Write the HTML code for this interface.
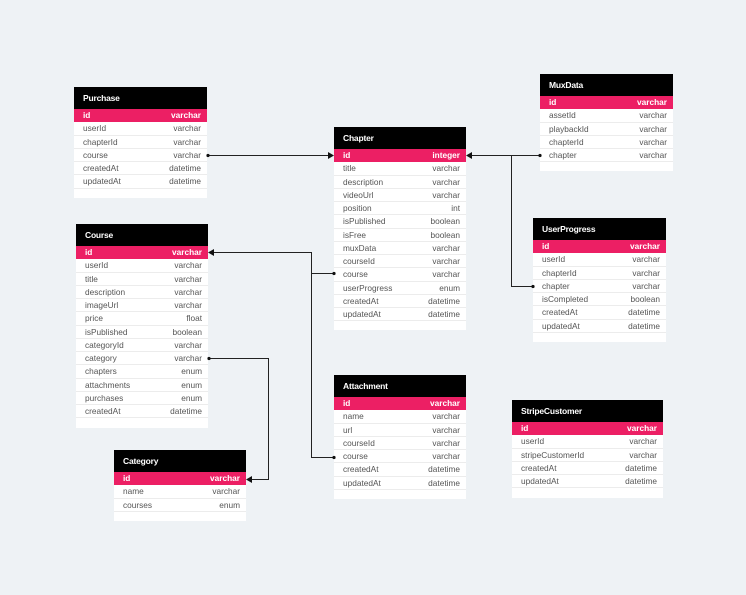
<!DOCTYPE html>
<html><head><meta charset="utf-8"><style>
body{margin:0;width:746px;height:595px;background:#eef2f5;position:relative;overflow:hidden;font-family:"Liberation Sans",sans-serif}
.t{position:absolute;background:#fff}
.h{height:22px;background:#000;color:#fff;font-weight:bold;font-size:8.5px;padding-left:9px;line-height:22px;letter-spacing:-0.2px}
.r{box-sizing:border-box;height:13.25px;border-bottom:1px solid #ececec;display:flex;justify-content:space-between;padding:0 6px 0 9px;font-size:8.3px;color:#555;line-height:13.6px}
.pk{background:#ec1f64;color:#fff;font-weight:bold;border-bottom:none}
svg{position:absolute;left:0;top:0}
</style></head><body>

<div class="t" style="left:74px;top:87px;width:133px;height:111px"><div class="h">Purchase</div>
<div class="r pk"><span>id</span><span>varchar</span></div>
<div class="r"><span>userId</span><span>varchar</span></div>
<div class="r"><span>chapterId</span><span>varchar</span></div>
<div class="r"><span>course</span><span>varchar</span></div>
<div class="r"><span>createdAt</span><span>datetime</span></div>
<div class="r"><span>updatedAt</span><span>datetime</span></div></div>

<div class="t" style="left:334px;top:127px;width:132px;height:203px"><div class="h">Chapter</div>
<div class="r pk"><span>id</span><span>integer</span></div>
<div class="r"><span>title</span><span>varchar</span></div>
<div class="r"><span>description</span><span>varchar</span></div>
<div class="r"><span>videoUrl</span><span>varchar</span></div>
<div class="r"><span>position</span><span>int</span></div>
<div class="r"><span>isPublished</span><span>boolean</span></div>
<div class="r"><span>isFree</span><span>boolean</span></div>
<div class="r"><span>muxData</span><span>varchar</span></div>
<div class="r"><span>courseId</span><span>varchar</span></div>
<div class="r"><span>course</span><span>varchar</span></div>
<div class="r"><span>userProgress</span><span>enum</span></div>
<div class="r"><span>createdAt</span><span>datetime</span></div>
<div class="r"><span>updatedAt</span><span>datetime</span></div></div>

<div class="t" style="left:540px;top:74px;width:133px;height:97px"><div class="h">MuxData</div>
<div class="r pk"><span>id</span><span>varchar</span></div>
<div class="r"><span>assetId</span><span>varchar</span></div>
<div class="r"><span>playbackId</span><span>varchar</span></div>
<div class="r"><span>chapterId</span><span>varchar</span></div>
<div class="r"><span>chapter</span><span>varchar</span></div></div>

<div class="t" style="left:533px;top:218px;width:133px;height:124px"><div class="h">UserProgress</div>
<div class="r pk"><span>id</span><span>varchar</span></div>
<div class="r"><span>userId</span><span>varchar</span></div>
<div class="r"><span>chapterId</span><span>varchar</span></div>
<div class="r"><span>chapter</span><span>varchar</span></div>
<div class="r"><span>isCompleted</span><span>boolean</span></div>
<div class="r"><span>createdAt</span><span>datetime</span></div>
<div class="r"><span>updatedAt</span><span>datetime</span></div></div>

<div class="t" style="left:76px;top:224px;width:132px;height:204px"><div class="h">Course</div>
<div class="r pk"><span>id</span><span>varchar</span></div>
<div class="r"><span>userId</span><span>varchar</span></div>
<div class="r"><span>title</span><span>varchar</span></div>
<div class="r"><span>description</span><span>varchar</span></div>
<div class="r"><span>imageUrl</span><span>varchar</span></div>
<div class="r"><span>price</span><span>float</span></div>
<div class="r"><span>isPublished</span><span>boolean</span></div>
<div class="r"><span>categoryId</span><span>varchar</span></div>
<div class="r"><span>category</span><span>varchar</span></div>
<div class="r"><span>chapters</span><span>enum</span></div>
<div class="r"><span>attachments</span><span>enum</span></div>
<div class="r"><span>purchases</span><span>enum</span></div>
<div class="r"><span>createdAt</span><span>datetime</span></div></div>

<div class="t" style="left:114px;top:450px;width:132px;height:71px"><div class="h">Category</div>
<div class="r pk"><span>id</span><span>varchar</span></div>
<div class="r"><span>name</span><span>varchar</span></div>
<div class="r"><span>courses</span><span>enum</span></div></div>

<div class="t" style="left:334px;top:375px;width:132px;height:124px"><div class="h">Attachment</div>
<div class="r pk"><span>id</span><span>varchar</span></div>
<div class="r"><span>name</span><span>varchar</span></div>
<div class="r"><span>url</span><span>varchar</span></div>
<div class="r"><span>courseId</span><span>varchar</span></div>
<div class="r"><span>course</span><span>varchar</span></div>
<div class="r"><span>createdAt</span><span>datetime</span></div>
<div class="r"><span>updatedAt</span><span>datetime</span></div></div>

<div class="t" style="left:512px;top:400px;width:151px;height:98px"><div class="h">StripeCustomer</div>
<div class="r pk"><span>id</span><span>varchar</span></div>
<div class="r"><span>userId</span><span>varchar</span></div>
<div class="r"><span>stripeCustomerId</span><span>varchar</span></div>
<div class="r"><span>createdAt</span><span>datetime</span></div>
<div class="r"><span>updatedAt</span><span>datetime</span></div></div>

<svg width="746" height="595" viewBox="0 0 746 595">
<g stroke="#222" stroke-width="1" fill="none">
<path d="M208 155.5H332"/>
<path d="M539 155.5H468M532 286.5H511.5V155.5"/>
<path d="M333 273.5H311.5V252.5H210M333 457.5H311.5V273.5"/>
<path d="M209 358.5H268.5V479.5H248"/>
</g>
<g fill="#111">
<circle cx="208" cy="155.5" r="1.6"/><path d="M334 155.5l-6-3.5v7z"/>
<circle cx="540" cy="155.5" r="1.6"/><circle cx="533" cy="286.5" r="1.6"/><path d="M466 155.5l6-3.5v7z"/>
<circle cx="334" cy="273.5" r="1.6"/><circle cx="334" cy="457.5" r="1.6"/><path d="M208 252.5l6-3.5v7z"/>
<circle cx="209" cy="358.5" r="1.6"/><path d="M246 479.5l6-3.5v7z"/>
</g></svg>
</body></html>
